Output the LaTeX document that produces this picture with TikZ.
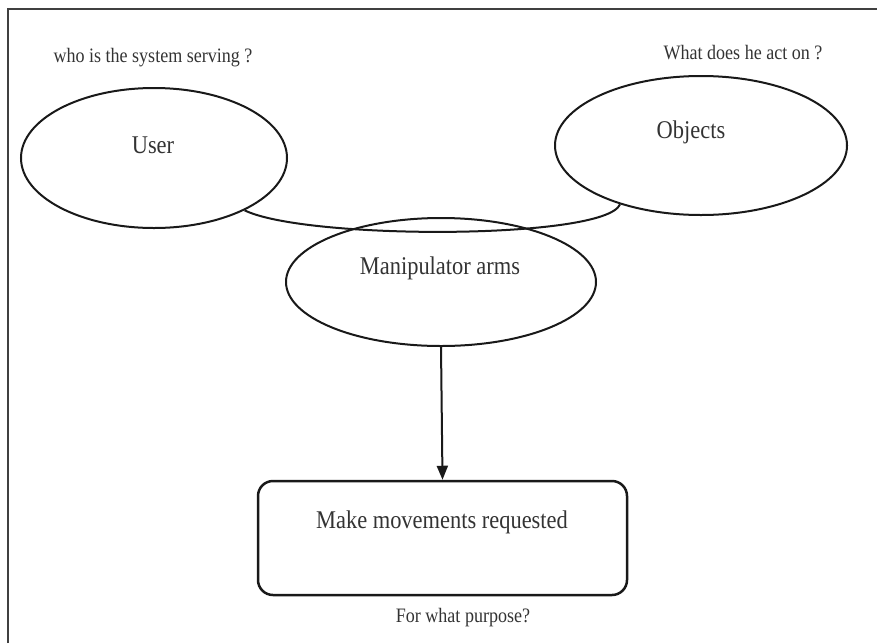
\documentclass[tikz,border=0pt]{standalone}
\usepackage{fontspec}
\setmainfont{Liberation Serif}[FakeStretch=0.88]
\usetikzlibrary{shapes.geometric,arrows.meta}
\begin{document}
\begin{tikzpicture}[x=1pt,y=-1pt,
  ell/.style={draw=black!90,line width=2pt,ellipse,inner sep=0pt},
  lbl/.style={text=black!80,font=\fontsize{25.5}{29}\selectfont,inner sep=0pt},
  note/.style={text=black!80,font=\fontsize{20.5}{24}\selectfont,inner sep=0pt},
  boxn/.style={draw=black!90,line width=2.5pt,rounded corners=15pt,rectangle,inner sep=0pt},
  conn/.style={draw=black!90,line width=2pt}]
\useasboundingbox (0,0) rectangle (877,643);
% frame (only left and top edges visible)
\draw[black!75,line width=1.5pt] (8,643) -- (8,9) -- (877,9);
% nodes
\node[ell,minimum width=266pt,minimum height=140pt] (user) at (154,158) {};
\node[ell,minimum width=292pt,minimum height=139pt] (obj) at (701,145.5) {};
\node[ell,minimum width=310pt,minimum height=128pt] (manip) at (441,282) {};
\node[boxn,minimum width=369pt,minimum height=114pt] (box) at (442.5,538) {};
% labels
\node[lbl] (userl) at (153,145) {User};
\node[lbl] (objl) at (691,132) {Objects};
\node[lbl] (manipl) at (440,268) {Manipulator arms};
\node[lbl] (boxl) at (442,522) {Make movements requested};
\node[note] (q1) at (153,58) {who is the system serving ?};
\node[note] (q2) at (743,53) {What does he act on ?};
\node[note] (q3) at (463,618) {For what purpose?};
% connectors
\draw[conn] (user.-30.3) .. controls (305,240) and (605,240) .. (obj.-144.6);
\draw[conn,-{Triangle[length=14pt,width=11pt]}] (manip.south) -- (box.north);
\end{tikzpicture}
\end{document}
